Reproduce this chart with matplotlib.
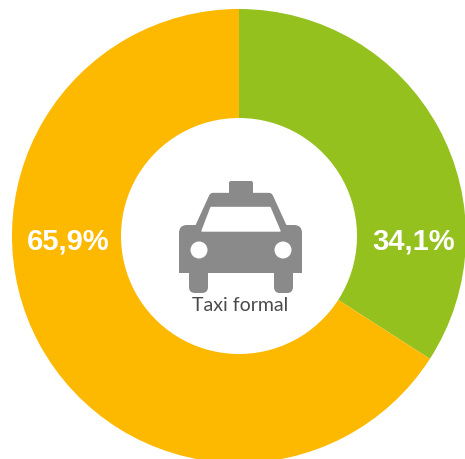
import matplotlib
matplotlib.use('Agg')
import matplotlib.pyplot as plt
from matplotlib.patches import Circle, FancyBboxPatch, Polygon

labels = ['34,1%', '65,9%']
values = [34.1, 65.9]
colors = ['#95C11F', '#FDB900']
center_label = 'Taxi formal'

W, H = 465, 459
fig = plt.figure(figsize=(W / 100, H / 100), dpi=100)
ax = fig.add_axes([0, 0, 1, 1])

cx, cy, r = 239, 236, 227
# y axis is inverted here, so the pie has to go the other way round
ax.pie(values, colors=colors, center=(cx, cy), radius=r, startangle=-90, counterclock=True,
       wedgeprops={'width': r - 118}, frame=True)
ax.set_xlim(0, W)
ax.set_ylim(H, 0)
ax.set_aspect('auto')
ax.axis('off')

ax.text(413.5, 242, labels[0], color='white', fontsize=21, fontweight='bold', ha='center', va='center', family='Liberation Sans')
ax.text(68.5, 242, labels[1], color='white', fontsize=21, fontweight='bold', ha='center', va='center', family='Liberation Sans')
ax.text(240.5, 305.5, center_label, color='#4A4A4A', fontsize=14, ha='center', va='center', family='Lato')

# taxi icon
grey = '#8A8A8A'
ax.add_patch(FancyBboxPatch((231, 183), 20, 10, boxstyle='round,pad=2', fc=grey, ec='none'))
ax.add_patch(Polygon([(213, 197), (269, 197), (285, 232), (197, 232)], closed=True, fc=grey, ec=grey, lw=6, joinstyle='round'))
ax.add_patch(FancyBboxPatch((187, 233), 107, 32, boxstyle='round,pad=8', fc=grey, ec='none'))
ax.add_patch(FancyBboxPatch((179, 250), 123, 23, boxstyle='square,pad=0', fc=grey, ec='none'))
ax.add_patch(FancyBboxPatch((195, 266), 7, 21, boxstyle='round,pad=6', fc=grey, ec='none'))
ax.add_patch(FancyBboxPatch((280, 266), 7, 21, boxstyle='round,pad=6', fc=grey, ec='none'))
ax.add_patch(Polygon([(211, 207.5), (270, 207.5), (280, 231), (202, 231)], closed=True, fc='white', ec='white', lw=1, joinstyle='round'))
ax.add_patch(Circle((199, 250), 8.5, fc='white', ec='none'))
ax.add_patch(Circle((283, 250), 8.5, fc='white', ec='none'))

fig.savefig('out.png', dpi=100)
